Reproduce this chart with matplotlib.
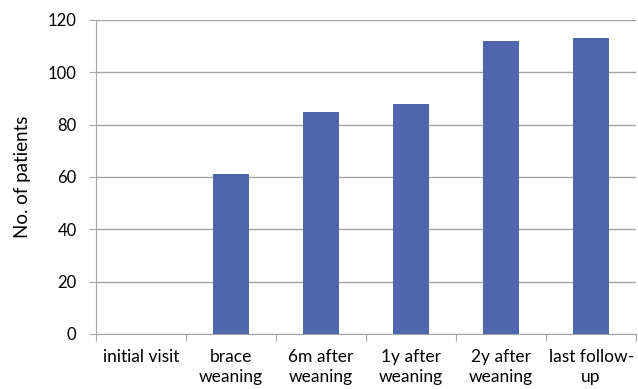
import matplotlib
matplotlib.use('Agg')
import matplotlib.pyplot as plt
import numpy as np

# data
categories = ['initial visit', 'brace\nweaning', '6m after\nweaning',
              '1y after\nweaning', '2y after\nweaning', 'last follow-\nup']
patients = [0, 61, 85, 88, 112, 113]
yticks = [0, 20, 40, 60, 80, 100, 120]

plt.rcParams['font.family'] = ['Lato', 'DejaVu Sans']

fig = plt.figure(figsize=(6.38, 3.89), dpi=100)
ax = fig.add_axes([0.1505, 0.1414, 0.8465, 0.8072])

x = np.arange(len(categories))
ax.bar(x + 0.5, patients, width=0.4, color='#4F66AD', zorder=3)

ax.set_xlim(0, len(categories))
ax.set_ylim(0, 120)
ax.set_yticks(yticks)
ax.yaxis.grid(True, color='#A6A6A6', linewidth=1.0, zorder=0)

# category boundaries get the tick marks, labels go in the middle
ax.set_xticks(np.arange(len(categories) + 1))
ax.set_xticklabels([])
ax.set_xticks(x + 0.5, minor=True)
ax.set_xticklabels(categories, minor=True, fontsize=12.5, linespacing=1.3)
ax.tick_params(axis='x', which='minor', length=0, pad=11)
ax.tick_params(axis='x', which='major', length=5, color='#A6A6A6')
ax.tick_params(axis='y', length=5, color='#A6A6A6', labelsize=12, pad=9)

for side in ['top', 'right']:
    ax.spines[side].set_visible(False)
ax.spines['left'].set_color('#A6A6A6')
ax.spines['bottom'].set_color('#A6A6A6')

ax.set_ylabel('No. of patients', fontsize=13.5, labelpad=12)

fig.savefig('out.png', dpi=100)
